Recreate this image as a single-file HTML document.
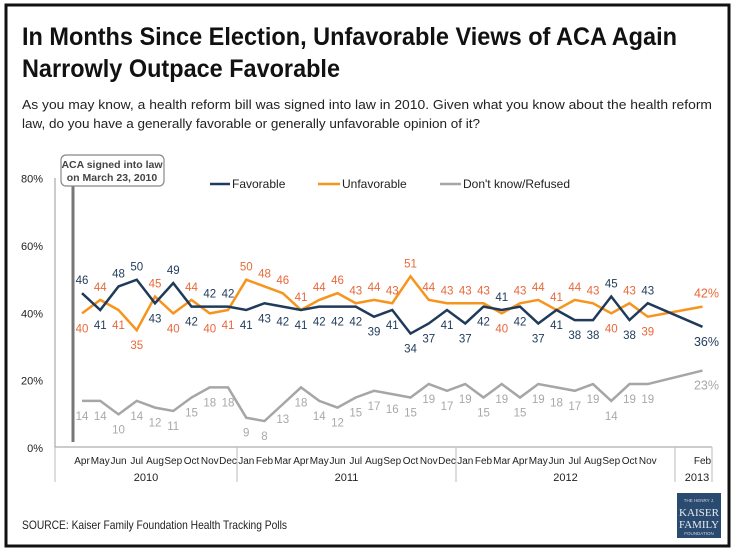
<!DOCTYPE html>
<html><head><meta charset="utf-8"><style>
body{margin:0;background:#fff}
svg{display:block;font-family:"Liberation Sans",sans-serif}
</style></head><body>
<svg id="chart" width="735" height="551" viewBox="0 0 735 551">
<rect x="6" y="5" width="723" height="541" fill="#fff" stroke="#111" stroke-width="3"/>
<text x="22" y="45" font-size="25" font-weight="bold" fill="#111" textLength="655" lengthAdjust="spacingAndGlyphs">In Months Since Election, Unfavorable Views of ACA Again</text>
<text x="22" y="77" font-size="25" font-weight="bold" fill="#111" textLength="318" lengthAdjust="spacingAndGlyphs">Narrowly Outpace Favorable</text>
<text x="22" y="109" font-size="13" fill="#222" textLength="690" lengthAdjust="spacingAndGlyphs">As you may know, a health reform bill was signed into law in 2010. Given what you know about the health reform</text>
<text x="22" y="128" font-size="13" fill="#222" textLength="458" lengthAdjust="spacingAndGlyphs">law, do you have a generally favorable or generally unfavorable opinion of it?</text>
<g id="axes"></g>
<g id="marks"></g>
<line x1="73" y1="186" x2="73" y2="442" stroke="#777" stroke-width="3"/>
<rect x="61" y="155" width="103" height="31" rx="5" fill="#fff" stroke="#888" stroke-width="1.2"/>
<text x="112" y="168" font-size="10.5" font-weight="bold" fill="#444" text-anchor="middle">ACA signed into law</text>
<text x="112" y="181" font-size="10.5" font-weight="bold" fill="#444" text-anchor="middle">on March 23, 2010</text>
<g>
<line x1="210" y1="184" x2="230" y2="184" stroke="#1f3a5a" stroke-width="2.5"/>
<text x="232" y="188" font-size="12" fill="#222">Favorable</text>
<line x1="318" y1="184" x2="340" y2="184" stroke="#f7941d" stroke-width="2.5"/>
<text x="342" y="188" font-size="12" fill="#222">Unfavorable</text>
<line x1="440" y1="184" x2="461" y2="184" stroke="#a6a6a6" stroke-width="2.5"/>
<text x="463" y="188" font-size="12" fill="#222">Don't know/Refused</text>
</g>
<text x="22" y="529" font-size="12" fill="#222" textLength="265" lengthAdjust="spacingAndGlyphs">SOURCE: Kaiser Family Foundation Health Tracking Polls</text>
<g>
<rect x="677" y="493" width="44" height="45" fill="#2b4a6f"/>
<text x="699" y="502" font-size="4.5" fill="#cdd6e2" text-anchor="middle">THE HENRY J.</text>
<text x="699" y="516" font-size="11" fill="#e6ecf3" text-anchor="middle" font-family="Liberation Serif,serif" textLength="40" lengthAdjust="spacingAndGlyphs">KAISER</text>
<text x="699" y="528" font-size="11" fill="#e6ecf3" text-anchor="middle" font-family="Liberation Serif,serif" textLength="40" lengthAdjust="spacingAndGlyphs">FAMILY</text>
<text x="699" y="535" font-size="4.5" fill="#cdd6e2" text-anchor="middle">FOUNDATION</text>
</g>
</svg>
<script>
// month index counted from Apr 2010
const monthIdx = [0,1,2,3,4,5,6,7,8, 9,10,11,12,13,14,15,16,17,18,19,20, 21,22,23,24,25,26,27,28,29,30,31, 34];
const monthLabels = ["Apr","May","Jun","Jul","Aug","Sep","Oct","Nov","Dec","Jan","Feb","Mar","Apr","May","Jun","Jul","Aug","Sep","Oct","Nov","Dec","Jan","Feb","Mar","Apr","May","Jun","Jul","Aug","Sep","Oct","Nov","Feb"];
const favorable = [46,41,48,50,43,49,42,42,42, 41,43,42,41,42,42,42,39,41,34,37,41, 37,42,41,42,37,41,38,38,45,38,43, 36];
const unfavorable = [40,44,41,35,45,40,44,40,41, 50,48,46,41,44,46,43,44,43,51,44,43, 43,43,40,43,44,41,44,43,40,43,39, 42];
const dontKnow = [14,14,10,14,12,11,15,18,18, 9,8,13,18,14,12,15,17,16,15,19,17, 19,15,19,15,19,18,17,19,14,19,19, 23];
const yTicks = [0,20,40,60,80];
const years = ["2010","2011","2012","2013"];

const NS="http://www.w3.org/2000/svg";
const x = i => 82 + i*18.25;
const y = v => 448 - v*3.366;
function mk(tag, attrs, parent){const e=document.createElementNS(NS,tag);for(const k in attrs)e.setAttribute(k,attrs[k]);parent.appendChild(e);return e;}
const axes=document.getElementById('axes'), marks=document.getElementById('marks');

let e=mk('line',{x1:55,y1:178,x2:55,y2:482,stroke:'#999','stroke-width':1},axes);


e=mk('line',{x1:55,y1:447,x2:712,y2:447,stroke:'#999','stroke-width':1},axes);


yTicks.forEach(t=>{
  const tx=mk('text',{x:43,y:y(t)+4,'font-size':11,fill:'#222','text-anchor':'end'},axes);
  tx.textContent=t+'%';
  
  
});
const seps=[55,237,456,675,712];
seps.forEach((sx,k)=>{
  const l=mk('line',{x1:sx,y1:447,x2:sx,y2:482,stroke:'#bbb','stroke-width':1},axes);
  
  
});
years.forEach((yr,k)=>{
  const cx=k<3?(seps[k]+seps[k+1])/2:697;
  const t=mk('text',{x:cx,y:481,'font-size':11,fill:'#222','text-anchor':'middle'},axes);
  t.textContent=yr;
  
  
});
monthLabels.forEach((m,i)=>{
  const t=mk('text',{x:x(monthIdx[i]),y:464,'font-size':10,fill:'#222','text-anchor':'middle'},axes);
  t.textContent=m;
  
  
});

function series(vals,color,name){
  const pts=vals.map((v,i)=>x(monthIdx[i])+','+y(v)).join(' ');
  const p=mk('polyline',{points:pts,fill:'none',stroke:color,'stroke-width':2.5,'stroke-linejoin':'miter'},marks);
  
  
}
series(dontKnow,'#a6a6a6','dont-know');
series(unfavorable,'#f7941d','unfavorable');
series(favorable,'#1f3a5a','favorable');

function labels(vals,color,name,posFn){
  vals.forEach((v,i)=>{
    const last=i===vals.length-1;
    const above=posFn(i);
    const t=mk('text',{x:x(monthIdx[i])+(last?4:0),y:y(v)+(above?-9:19),'font-size':last?12.5:11.5,fill:color,'text-anchor':'middle'},marks);
    t.textContent=v+(last?'%':'');
    
    
  });
}
labels(favorable,'#1f3a5a','favorable',i=>favorable[i]>unfavorable[i]);
labels(unfavorable,'#e8683a','unfavorable',i=>unfavorable[i]>=favorable[i]);
labels(dontKnow,'#a8a8a8','dont-know',i=>false);
</script>
</body></html>
